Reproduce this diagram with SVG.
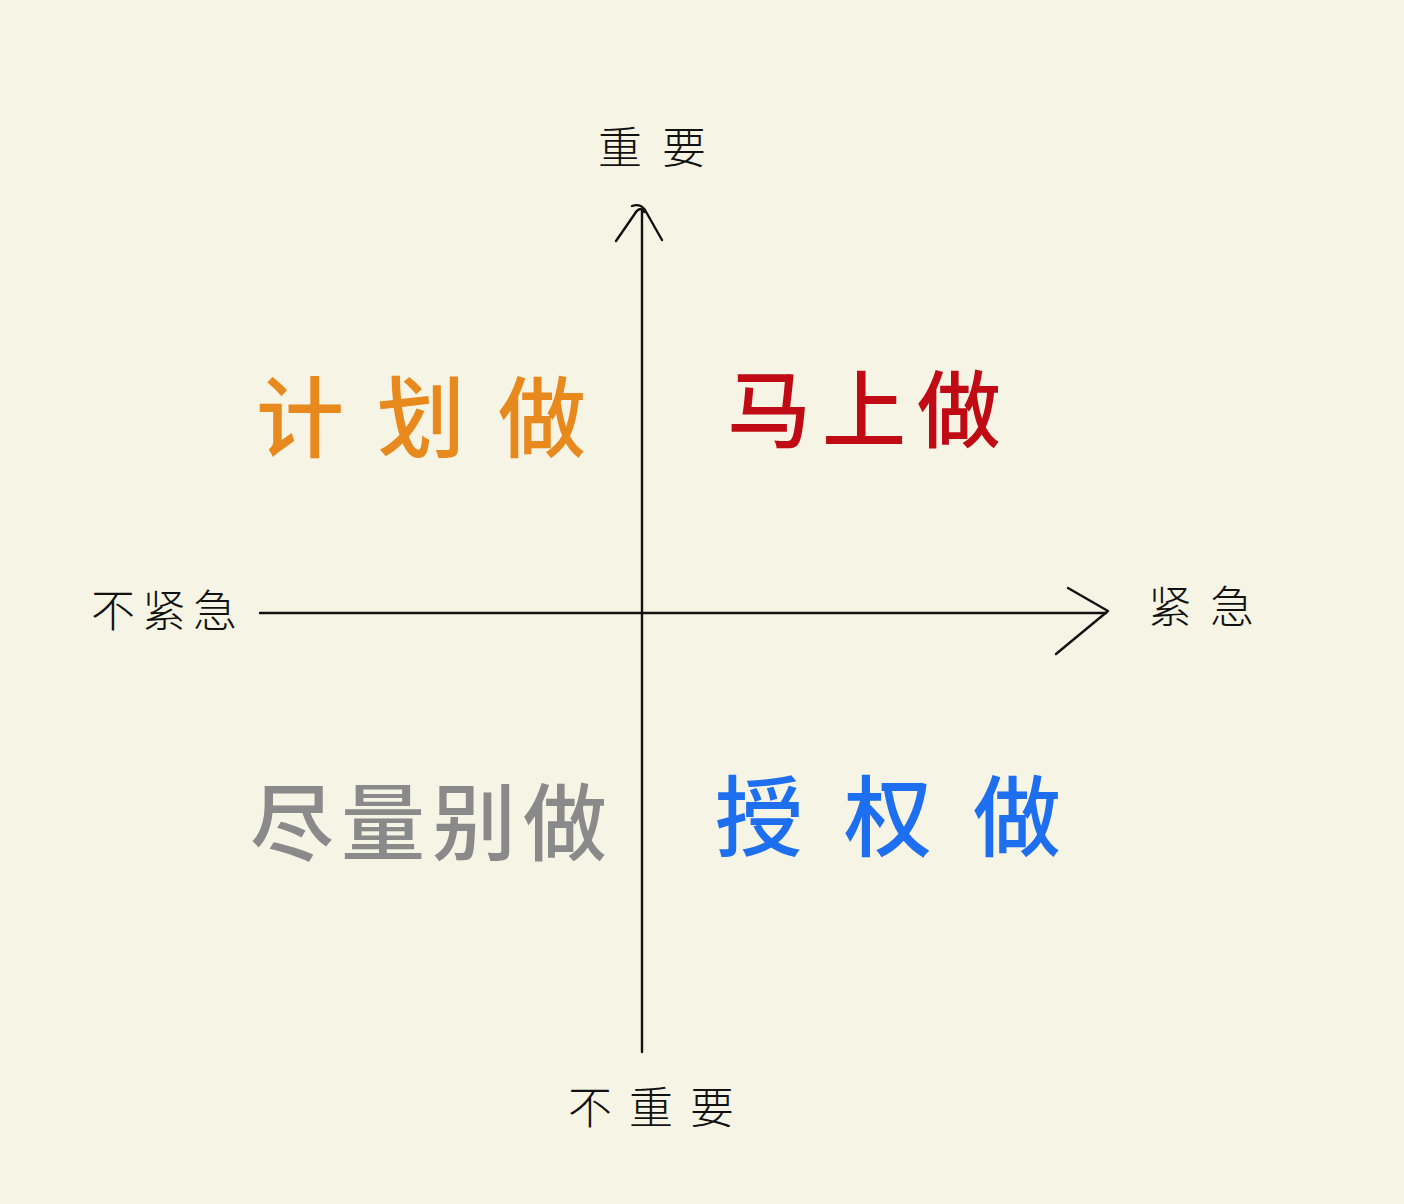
<svg xmlns="http://www.w3.org/2000/svg" width="1404" height="1204" viewBox="0 0 1404 1204">
<style>
.ax{fill:none;stroke:#111;stroke-width:2.4;stroke-linecap:round;stroke-linejoin:round}
.lbl{font-family:"Noto Sans CJK SC","Noto Sans",sans-serif;font-size:44px;fill:#111;font-weight:300}
.q{font-family:"Noto Sans CJK SC","Noto Sans",sans-serif;font-weight:500}
</style>
<rect width="1404" height="1204" fill="#F6F4E4"/>
<g id="connectors">
<path class="ax" d="M642,210 L642,1052"/>
<path class="ax" d="M616,241 L634,215 Q640,205 644,212 M632,206 Q640,203 645,210 L662,240"/>
<path class="ax" d="M260,613 L1106,613"/>
<path class="ax" d="M1068,588 L1108,611 L1056,654"/>
</g>
<g id="label-important"><text class="lbl" x="598" y="164" letter-spacing="20">重要</text></g>
<g id="label-unimportant"><text class="lbl" x="568" y="1124" letter-spacing="17">不重要</text></g>
<g id="label-not-urgent"><text class="lbl" x="91" y="627" letter-spacing="7">不紧急</text></g>
<g id="label-urgent"><text class="lbl" x="1148" y="623" letter-spacing="18">紧急</text></g>
<g id="q-plan"><text class="q" x="256" y="450" font-size="88" letter-spacing="33" fill="#E8891E">计划做</text></g>
<g id="q-now"><text class="q" x="727" y="441" font-size="84" letter-spacing="11" fill="#C00A14">马上做</text></g>
<g id="q-avoid"><text class="q" x="250" y="854" font-size="84" letter-spacing="7" fill="#8A8A8A">尽量别做</text></g>
<g id="q-delegate"><text class="q" x="715" y="849" font-size="88" letter-spacing="41" fill="#1E6EF0">授权做</text></g>
</svg>
